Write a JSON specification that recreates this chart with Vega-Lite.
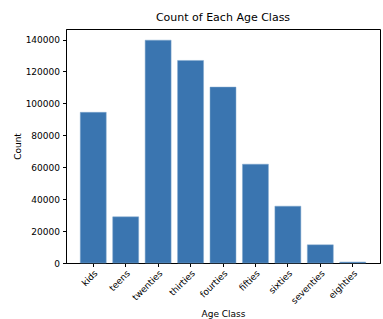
{
  "$schema": "https://vega.github.io/schema/vega-lite/v6.json",
  "autosize": {"type": "none"},
  "padding": {"left": 66, "top": 29, "right": 3, "bottom": 56},
  "width": 314,
  "height": 234,
  "background": "white",
  "title": {
    "text": "Count of Each Age Class",
    "fontSize": 11,
    "fontWeight": "normal",
    "font": "DejaVu Sans",
    "color": "black",
    "offset": 6
  },
  "config": {
    "view": {"stroke": "black", "strokeWidth": 1},
    "axis": {
      "labelFont": "DejaVu Sans",
      "titleFont": "DejaVu Sans",
      "labelFontSize": 9,
      "titleFontSize": 9,
      "titleFontWeight": "normal",
      "labelColor": "black",
      "titleColor": "black",
      "tickColor": "black",
      "domainColor": "black",
      "tickSize": 3.5,
      "grid": false
    }
  },
  "data": {
    "values": [
      {"age_class": "kids", "count": 94400},
      {"age_class": "teens", "count": 28900},
      {"age_class": "twenties", "count": 139600},
      {"age_class": "thirties", "count": 126900},
      {"age_class": "fourties", "count": 110200},
      {"age_class": "fifties", "count": 61900},
      {"age_class": "sixties", "count": 35600},
      {"age_class": "seventies", "count": 11400},
      {"age_class": "eighties", "count": 600}
    ]
  },
  "mark": {"type": "bar", "color": "#3a75b0", "stroke": "#7fa6cc", "strokeWidth": 0.5},
  "encoding": {
    "x": {
      "field": "age_class",
      "type": "nominal",
      "sort": null,
      "scale": {"paddingInner": 0.2, "paddingOuter": 0.44},
      "axis": {
        "title": "Age Class",
        "labelAngle": -45,
        "labelAlign": "right",
        "labelBaseline": "top",
        "labelPadding": 2,
        "titleY": 50,
        "titleBaseline": "middle"
      }
    },
    "y": {
      "field": "count",
      "type": "quantitative",
      "scale": {"domain": [0, 146600], "nice": false},
      "axis": {
        "title": "Count",
        "values": [0, 20000, 40000, 60000, 80000, 100000, 120000, 140000],
        "format": "d",
        "labelPadding": 3,
        "titleX": -49,
        "titleBaseline": "middle"
      }
    }
  }
}
